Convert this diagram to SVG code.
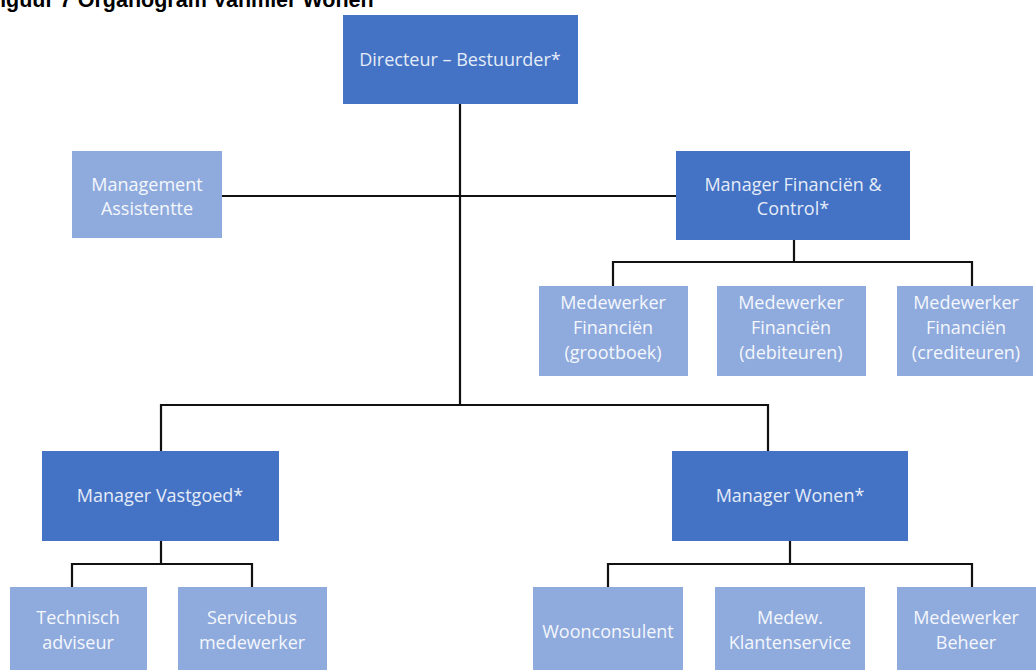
<svg xmlns="http://www.w3.org/2000/svg" width="1036" height="670" viewBox="0 0 1036 670">
<style>
.dark{fill:#4472C4;}
.light{fill:#8FAADC;}
.t{font-family:"Open Sans","Noto Sans",sans-serif;font-size:18px;text-anchor:middle;}
.td{fill:#E4ECF8;}
.tl{fill:#F4F7FC;}
.c{stroke:#111;stroke-width:2.2;fill:none;}
.title{font-family:"Liberation Sans",Arial,sans-serif;font-weight:bold;font-size:21.5px;fill:#000;}
</style>
<rect width="1036" height="670" fill="#fff"/>
<text class="title" x="-13" y="7">Figuur 7 Organogram Vanmier Wonen</text>
<g id="connectors">
<path class="c" d="M460 104V405"/>
<path class="c" d="M222 196H676"/>
<path class="c" d="M794 240V262M613 287V262H972V287"/>
<path class="c" d="M161 451V405H768V451"/>
<path class="c" d="M161 541V564M72 587V564H252V587"/>
<path class="c" d="M790 541V564M608 587V564H972V587"/>
</g>
<g id="directeur"><rect class="dark" x="343" y="15" width="235" height="89"/><text class="t td" x="460" y="66">Directeur – Bestuurder*</text></g>
<g id="assistentte"><rect class="light" x="72" y="151" width="150" height="87"/><text class="t tl" x="147" y="191">Management</text><text class="t tl" x="147" y="215">Assistentte</text></g>
<g id="financien"><rect class="dark" x="676" y="151" width="234" height="89"/><text class="t td" x="793" y="191">Manager Financiën &amp;</text><text class="t td" x="793" y="215">Control*</text></g>
<g id="grootboek"><rect class="light" x="539" y="286" width="149" height="90"/><text class="t tl" x="613" y="309">Medewerker</text><text class="t tl" x="613" y="334">Financiën</text><text class="t tl" x="613" y="359">(grootboek)</text></g>
<g id="debiteuren"><rect class="light" x="717" y="286" width="149" height="90"/><text class="t tl" x="791" y="309">Medewerker</text><text class="t tl" x="791" y="334">Financiën</text><text class="t tl" x="791" y="359">(debiteuren)</text></g>
<g id="crediteuren"><rect class="light" x="897" y="286" width="136" height="90"/><text class="t tl" x="966" y="309">Medewerker</text><text class="t tl" x="966" y="334">Financiën</text><text class="t tl" x="966" y="359">(crediteuren)</text></g>
<g id="vastgoed"><rect class="dark" x="42" y="451" width="237" height="90"/><text class="t td" x="160" y="502">Manager Vastgoed*</text></g>
<g id="wonen"><rect class="dark" x="672" y="451" width="236" height="90"/><text class="t td" x="790" y="502">Manager Wonen*</text></g>
<g id="technisch"><rect class="light" x="10" y="587" width="137" height="90"/><text class="t tl" x="78" y="624">Technisch</text><text class="t tl" x="78" y="649">adviseur</text></g>
<g id="servicebus"><rect class="light" x="178" y="587" width="149" height="90"/><text class="t tl" x="252" y="624">Servicebus</text><text class="t tl" x="252" y="649">medewerker</text></g>
<g id="woonconsulent"><rect class="light" x="533" y="587" width="150" height="90"/><text class="t tl" x="608" y="638">Woonconsulent</text></g>
<g id="klantenservice"><rect class="light" x="715" y="587" width="150" height="90"/><text class="t tl" x="790" y="624">Medew.</text><text class="t tl" x="790" y="649">Klantenservice</text></g>
<g id="beheer"><rect class="light" x="897" y="587" width="139" height="90"/><text class="t tl" x="966" y="624">Medewerker</text><text class="t tl" x="966" y="649">Beheer</text></g>
</svg>
